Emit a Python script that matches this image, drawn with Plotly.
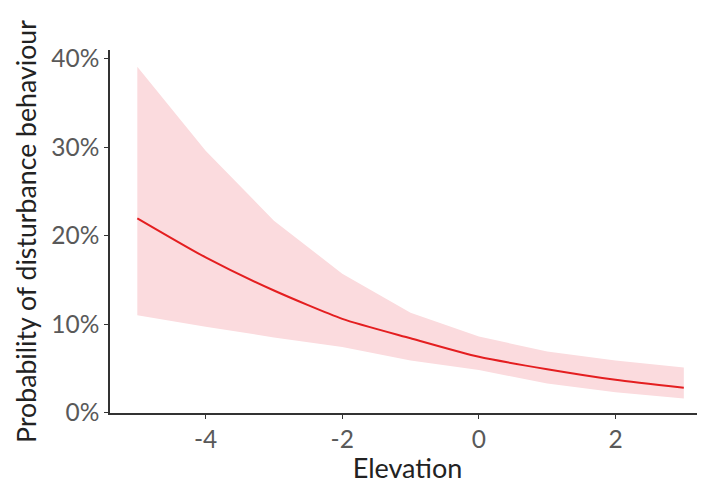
import plotly.graph_objects as go

elevation = [-5, -4, -3, -2, -1, 0, 1, 2, 3]
prob = [0.2197, 0.1755, 0.138, 0.106, 0.084, 0.063, 0.049, 0.037, 0.028]
upper = [0.391, 0.296, 0.217, 0.157, 0.113, 0.086, 0.069, 0.059, 0.051]
lower = [0.110, 0.097, 0.085, 0.074, 0.059, 0.048, 0.033, 0.023, 0.016]

fig = go.Figure()
fig.add_trace(go.Scatter(x=elevation, y=upper, mode="lines", line=dict(width=0, shape="linear"),
                         showlegend=False, hoverinfo="skip"))
fig.add_trace(go.Scatter(x=elevation, y=lower, mode="lines", line=dict(width=0),
                         fill="tonexty", fillcolor="rgb(251,219,222)", showlegend=False, hoverinfo="skip"))
fig.add_trace(go.Scatter(x=elevation, y=prob, mode="lines", line=dict(color="rgb(228,30,32)", width=2, shape="spline", smoothing=0.6),
                         showlegend=False))

axis_common = dict(showgrid=False, zeroline=False, showline=True, linecolor="#333333", linewidth=1.5,
                   ticks="outside", ticklen=4, tickcolor="#333333", tickwidth=1.2, automargin=False,
                   tickfont=dict(family="Lato, Liberation Sans, sans-serif", size=24.5, color="#595959"))

fig.update_layout(
    width=697, height=476,
    margin=dict(l=102, r=0, t=42, b=71),
    paper_bgcolor="white", plot_bgcolor="white",
    xaxis=dict(range=[-5.4, 3.31], tickvals=[-4, -2, 0, 2], ticktext=["-4", "-2", "0", "2"],
               title=dict(text="Elevation", font=dict(family="Lato, sans-serif", size=27, color="#222222"), standoff=6),
               **axis_common),
    yaxis=dict(range=[-0.0005, 0.41], tickvals=[0, 0.1, 0.2, 0.3, 0.4], tickformat=".0%",
               title=dict(text="Probability of disturbance behaviour", font=dict(family="Lato, sans-serif", size=26.7, color="#222222"), standoff=7),
               **axis_common),
)

fig.write_html("out.html")
